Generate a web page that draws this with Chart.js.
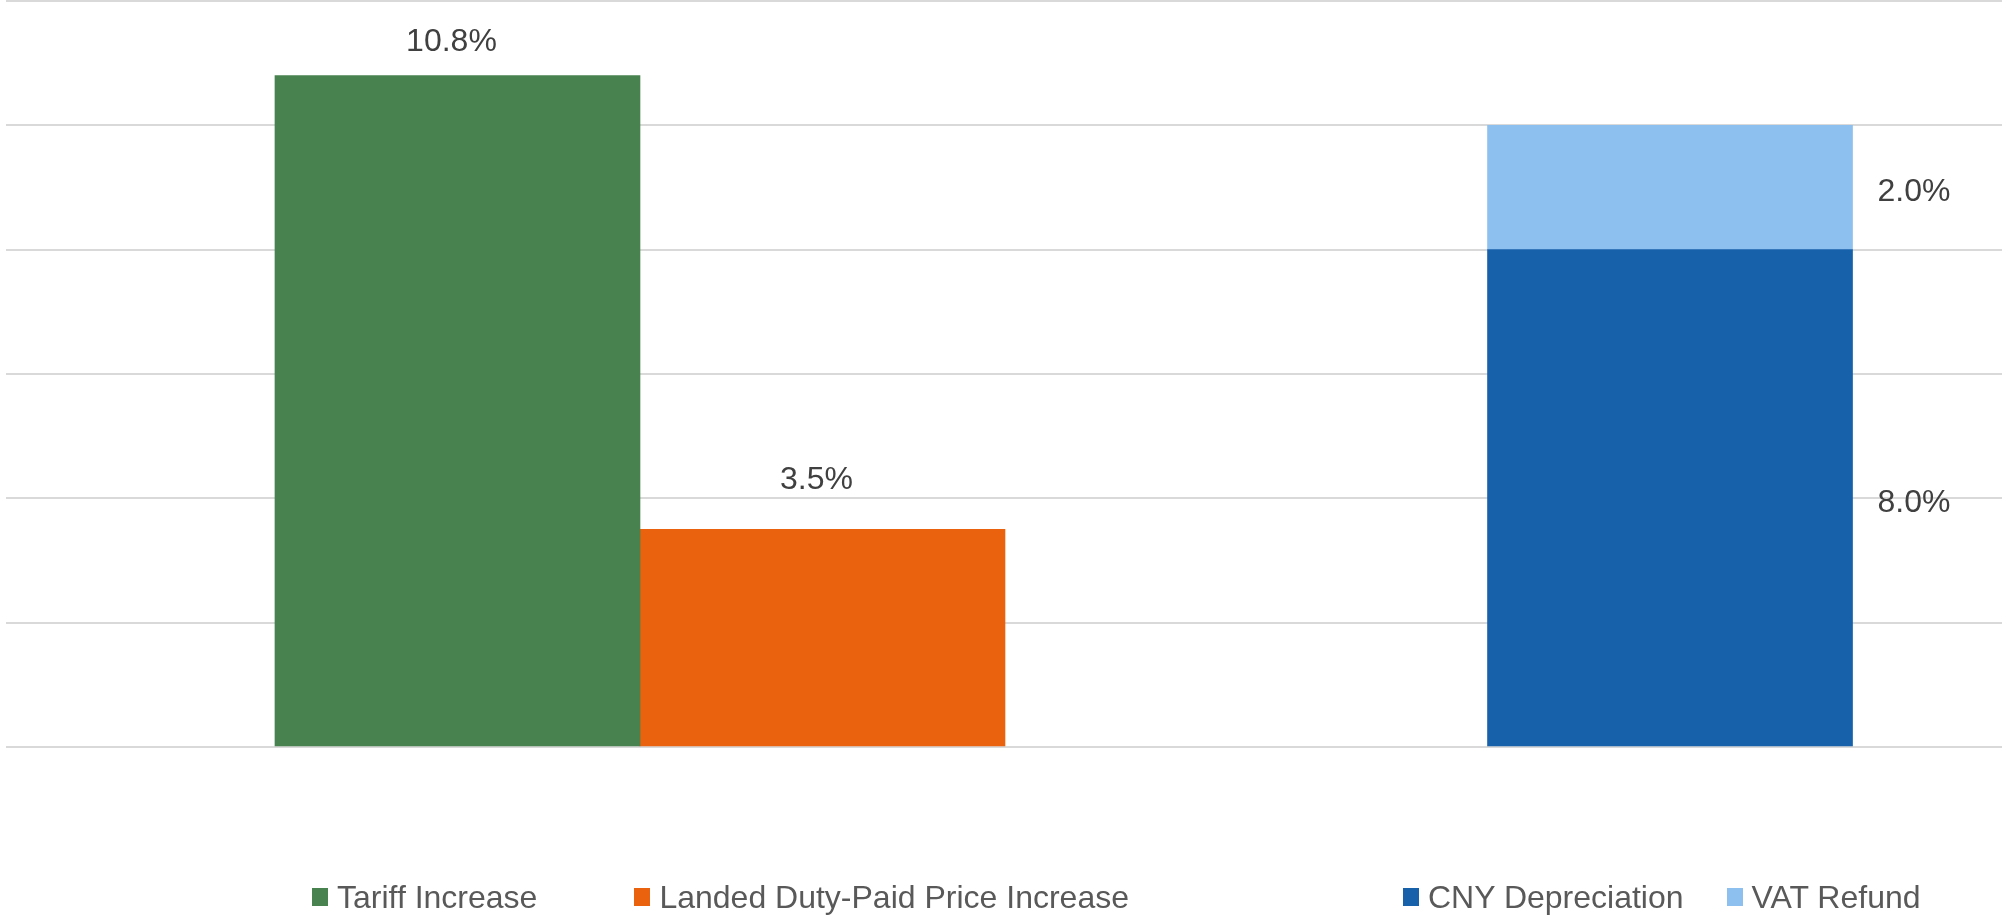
<!DOCTYPE html>
<html>
<head>
<meta charset="utf-8">
<script src="https://cdn.jsdelivr.net/npm/chart.js@4.4.1/dist/chart.umd.min.js"></script>
<style>
  html, body { margin: 0; padding: 0; background: #fff; overflow: hidden; }
  #wrap { position: relative; width: 2002px; height: 915px; }
  .legend { position: absolute; top: 879px; display: flex; align-items: center; height: 36px;
            font: 32px "Liberation Sans", Arial, sans-serif; color: #595959; white-space: nowrap; }
  .legend .item { display: flex; align-items: center; }
  .legend .box { width: 16px; height: 18px; margin-right: 9px; }
</style>
</head>
<body>
<div id="wrap">
  <canvas id="chart"></canvas>
</div>
<script>
'use strict';

// two groups on the x axis: tariff side and offset side
const groups = ['Tariff', 'Offsets'];
const tariffIncrease = [10.8, null];
const landedIncrease = [3.5, null];
const cnyDepreciation = [null, 8.0];
const vatRefund = [null, 2.0];

const FONT = '"Liberation Sans", Arial, sans-serif';

function points(values) {
  return values.map((v, i) => ({ x: i, y: v }));
}

// data labels: above the side-by-side bars, to the right of the stacked one
const barLabels = {
  id: 'barLabels',
  afterDatasetsDraw(chart) {
    const ctx = chart.ctx;
    const area = chart.chartArea;
    ctx.save();
    ctx.font = '32px ' + FONT;
    ctx.fillStyle = '#404040';
    chart.data.datasets.forEach((ds, di) => {
      const meta = chart.getDatasetMeta(di);
      meta.data.forEach((bar, i) => {
        const v = ds.data[i].y;
        if (v == null) return;
        const text = v.toFixed(1) + '%';
        ctx.textBaseline = 'middle';
        if (ds.labelPos === 'right') {
          ctx.textAlign = 'left';
          ctx.fillText(text, bar.x + bar.width / 2 + 25, (bar.y + bar.base) / 2 + 5);
        } else {
          ctx.textAlign = 'center';
          const y = Math.max(bar.y - 49, area.top + 41);
          ctx.fillText(text, bar.x - 6, y);
        }
      });
    });
    ctx.restore();
  }
};

const chart = new Chart(document.getElementById('chart'), {
  type: 'bar',
  data: {
    datasets: [
      { label: 'Tariff Increase', data: points(tariffIncrease), stack: 'a', backgroundColor: '#47824F', labelPos: 'top' },
      { label: 'Landed Duty-Paid Price Increase', data: points(landedIncrease), stack: 'b', backgroundColor: '#EA620D', labelPos: 'top' },
      { label: 'CNY Depreciation', data: points(cnyDepreciation), stack: 'a', backgroundColor: '#1761AB', labelPos: 'right' },
      { label: 'VAT Refund', data: points(vatRefund), stack: 'a', backgroundColor: '#8EC0EF', labelPos: 'right' },
    ]
  },
  options: {
    responsive: true,
    maintainAspectRatio: false,
    animation: false,
    layout: { padding: { left: 6, right: 0, top: 1, bottom: 168 } },
    datasets: { bar: { skipNull: true, barThickness: 365, borderWidth: 0 } },
    plugins: { legend: { display: false }, tooltip: { enabled: false } },
    scales: {
      x: { type: 'linear', display: false, offset: false, min: -0.6155, max: 1.3223 },
      y: {
        stacked: true, min: 0, max: 12,
        ticks: { display: false, stepSize: 2 },
        border: { display: false },
        grid: { color: '#d9d9d9', lineWidth: 2, drawTicks: false }
      }
    }
  },
  plugins: [barLabels]
});

// html legend in two groups, built from the datasets
const legendGroups = [
  { items: [0, 1], left: 312, gap: 97 },
  { items: [2, 3], left: 1403, gap: 43 },
];
const wrap = document.getElementById('wrap');
legendGroups.forEach(g => {
  const div = document.createElement('div');
  div.className = 'legend';
  div.style.left = g.left + 'px';
  div.style.gap = g.gap + 'px';
  g.items.forEach(di => {
    const ds = chart.data.datasets[di];
    const item = document.createElement('span');
    item.className = 'item';
    const box = document.createElement('span');
    box.className = 'box';
    box.style.background = ds.backgroundColor;
    item.appendChild(box);
    item.appendChild(document.createTextNode(ds.label));
    div.appendChild(item);
  });
  wrap.appendChild(div);
});
</script>
</body>
</html>
